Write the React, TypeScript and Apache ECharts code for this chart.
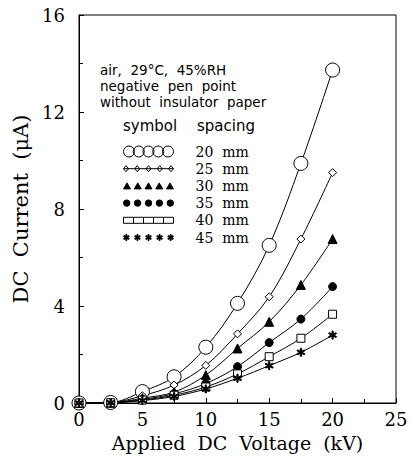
import React, { useEffect, useRef } from 'react';
import * as echarts from 'echarts';

// ---- data ----
const voltages = [0, 2.5, 5, 7.5, 10, 12.5, 15, 17.5, 20];
const spacings = ['20 mm', '25 mm', '30 mm', '35 mm', '40 mm', '45 mm'];
const current20 = [0, 0.02, 0.47, 1.08, 2.3, 4.11, 6.5, 9.88, 13.73];
const current25 = [0, 0.02, 0.3, 0.74, 1.55, 2.85, 4.38, 6.76, 9.5];
const current30 = [0, 0.01, 0.2, 0.45, 1.15, 2.25, 3.35, 4.87, 6.76];
const current35 = [0, 0.01, 0.15, 0.38, 0.8, 1.5, 2.49, 3.46, 4.8];
const current40 = [0, 0.01, 0.12, 0.32, 0.66, 1.2, 1.91, 2.67, 3.66];
const current45 = [0, 0.01, 0.1, 0.27, 0.58, 1.02, 1.54, 2.09, 2.8];
const infoLines = ['air,  29°C,  45%RH', 'negative  pen  point', 'without  insulator  paper'];
const headerLabels = ['symbol', 'spacing'];
const xName = 'Applied  DC  Voltage  (kV)';
const yName = 'DC  Current  (μA)';

// ---- symbol path helpers ----
function asterisk(cx: number, cy: number, r: number, w: number): string {
  let d = '';
  for (const deg of [90, 30, 150]) {
    const a = (deg * Math.PI) / 180;
    const dx = Math.cos(a) * r, dy = Math.sin(a) * r;
    const px = -Math.sin(a) * w, py = Math.cos(a) * w;
    const sx = cx - dx, sy = cy - dy, ex = cx + dx, ey = cy + dy;
    d += `M${(sx + px).toFixed(2)},${(sy + py).toFixed(2)}L${(ex + px).toFixed(2)},${(ey + py).toFixed(2)}L${(ex - px).toFixed(2)},${(ey - py).toFixed(2)}L${(sx - px).toFixed(2)},${(sy - py).toFixed(2)}Z`;
  }
  return d;
}
function circlesPath(r: number, step: number): string {
  let d = '';
  for (let i = 0; i < 5; i++) {
    const cx = r + i * step;
    d += `M${cx - r},${r}A${r},${r} 0 1,1 ${cx + r},${r}A${r},${r} 0 1,1 ${cx - r},${r}Z`;
  }
  return d;
}
function diamondsPath(): string {
  let d = 'M0,3L50,3';
  for (let i = 0; i < 5; i++) {
    const cx = 2.5 + i * 11.25;
    d += `M${cx},0L${cx + 2.5},3L${cx},6L${cx - 2.5},3Z`;
  }
  return d;
}
function trianglesPath(): string {
  let d = '';
  for (let i = 0; i < 5; i++) {
    const cx = 3.5 + i * 10.75;
    d += `M${cx},0L${cx + 3.5},6L${cx - 3.5},6Z`;
  }
  return d;
}
function squaresPath(): string {
  let d = '';
  for (let i = 0; i < 5; i++) {
    const x = i * 10;
    d += `M${x},0L${x + 10},0L${x + 10},6L${x},6Z`;
  }
  return d;
}
function starsPath(): string {
  let d = '';
  for (let i = 0; i < 5; i++) d += asterisk(3 + i * 11, 3, 3, 0.5);
  return d;
}

const starSymbol = 'path://' + asterisk(5, 5, 5, 0.7);

export default function App() {
  const ref = useRef<HTMLDivElement>(null);
  useEffect(() => {
    if (!ref.current) return;
    const chart = echarts.init(ref.current, undefined, { renderer: 'svg' });
    const defs = [
      { name: spacings[0], data: current20, symbol: 'circle', size: 14, fill: '#fff', legend: circlesPath(5.5, 9.75) },
      { name: spacings[1], data: current25, symbol: 'diamond', size: 8, fill: '#fff', legend: diamondsPath() },
      { name: spacings[2], data: current30, symbol: 'triangle', size: 9, fill: '#000', legend: trianglesPath() },
      { name: spacings[3], data: current35, symbol: 'circle', size: 8, fill: '#000', legend: circlesPath(3.2, 10.9) },
      { name: spacings[4], data: current40, symbol: 'rect', size: 8, fill: '#fff', legend: squaresPath() },
      { name: spacings[5], data: current45, symbol: starSymbol, size: 8, fill: '#000', legend: starsPath() },
    ];
    const serif = 'DejaVu Serif';
    const sans = 'DejaVu Sans';
    chart.setOption({
      animation: false,
      backgroundColor: '#fff',
      grid: { left: 79, top: 15, right: 16, bottom: 54, show: true, borderColor: '#000', borderWidth: 1 },
      xAxis: {
        type: 'value', min: 0, max: 25, interval: 5,
        axisLine: { show: true, lineStyle: { color: '#000', width: 1 } },
        axisTick: { show: true, inside: true, length: 5, lineStyle: { color: '#000' } },
        minorTick: { show: true, splitNumber: 2, length: 4, lineStyle: { color: '#000' } },
        splitLine: { show: false },
        axisLabel: { color: '#000', fontFamily: serif, fontSize: 18, margin: 7 },
        name: xName, nameLocation: 'middle', nameGap: 30,
        nameTextStyle: { color: '#000', fontFamily: serif, fontSize: 19 },
      },
      yAxis: {
        type: 'value', min: 0, max: 16, interval: 4,
        axisLine: { show: true, lineStyle: { color: '#000', width: 1 } },
        axisTick: { show: true, inside: true, length: 5, lineStyle: { color: '#000' } },
        minorTick: { show: true, splitNumber: 2, length: 4, lineStyle: { color: '#000' } },
        splitLine: { show: false },
        axisLabel: { color: '#000', fontFamily: serif, fontSize: 18, margin: 14 },
        name: yName, nameLocation: 'middle', nameGap: 42, nameRotate: 90,
        nameTextStyle: { color: '#000', fontFamily: serif, fontSize: 21 },
      },
      legend: {
        orient: 'vertical', left: 123, top: 144.5, padding: 0,
        itemWidth: 50, itemHeight: 11, itemGap: 3.2, selectedMode: false,
        textStyle: { fontFamily: serif, fontSize: 14, color: '#000', padding: [0, 0, 0, 17], lineHeight: 11 },
        formatter: (n: string) => n.replace(' ', '  '),
        data: defs.map((d) => ({
          name: d.name,
          icon: 'path://' + d.legend,
          itemStyle: { color: d.fill, borderColor: '#000', borderWidth: 1 },
        })),
      },
      graphic: [
        {
          type: 'text', x: 100, y: 61.5,
          style: {
            text: infoLines.join('\n'), fontFamily: sans, fontSize: 13.5, lineHeight: 16,
            fill: '#000', verticalAlign: 'top',
          },
        },
        {
          type: 'text', x: 123, y: 126,
          style: { text: headerLabels[0], fontFamily: sans, fontSize: 15, fill: '#000', verticalAlign: 'middle' },
        },
        {
          type: 'text', x: 197, y: 126,
          style: { text: headerLabels[1], fontFamily: sans, fontSize: 15, fill: '#000', verticalAlign: 'middle' },
        },
      ],
      series: defs.map((d) => ({
        name: d.name,
        type: 'line',
        data: voltages.map((v, i) => [v, d.data[i]]),
        smooth: 0.35,
        clip: false,
        symbol: d.symbol,
        symbolSize: d.size,
        showAllSymbol: true,
        lineStyle: { color: '#000', width: 1 },
        itemStyle: { color: d.fill, borderColor: '#000', borderWidth: 1 },
      })),
    });
    return () => chart.dispose();
  }, []);
  return <div ref={ref} style={{ width: 412, height: 457, position: 'absolute', left: 0, top: 0 }} />;
}
